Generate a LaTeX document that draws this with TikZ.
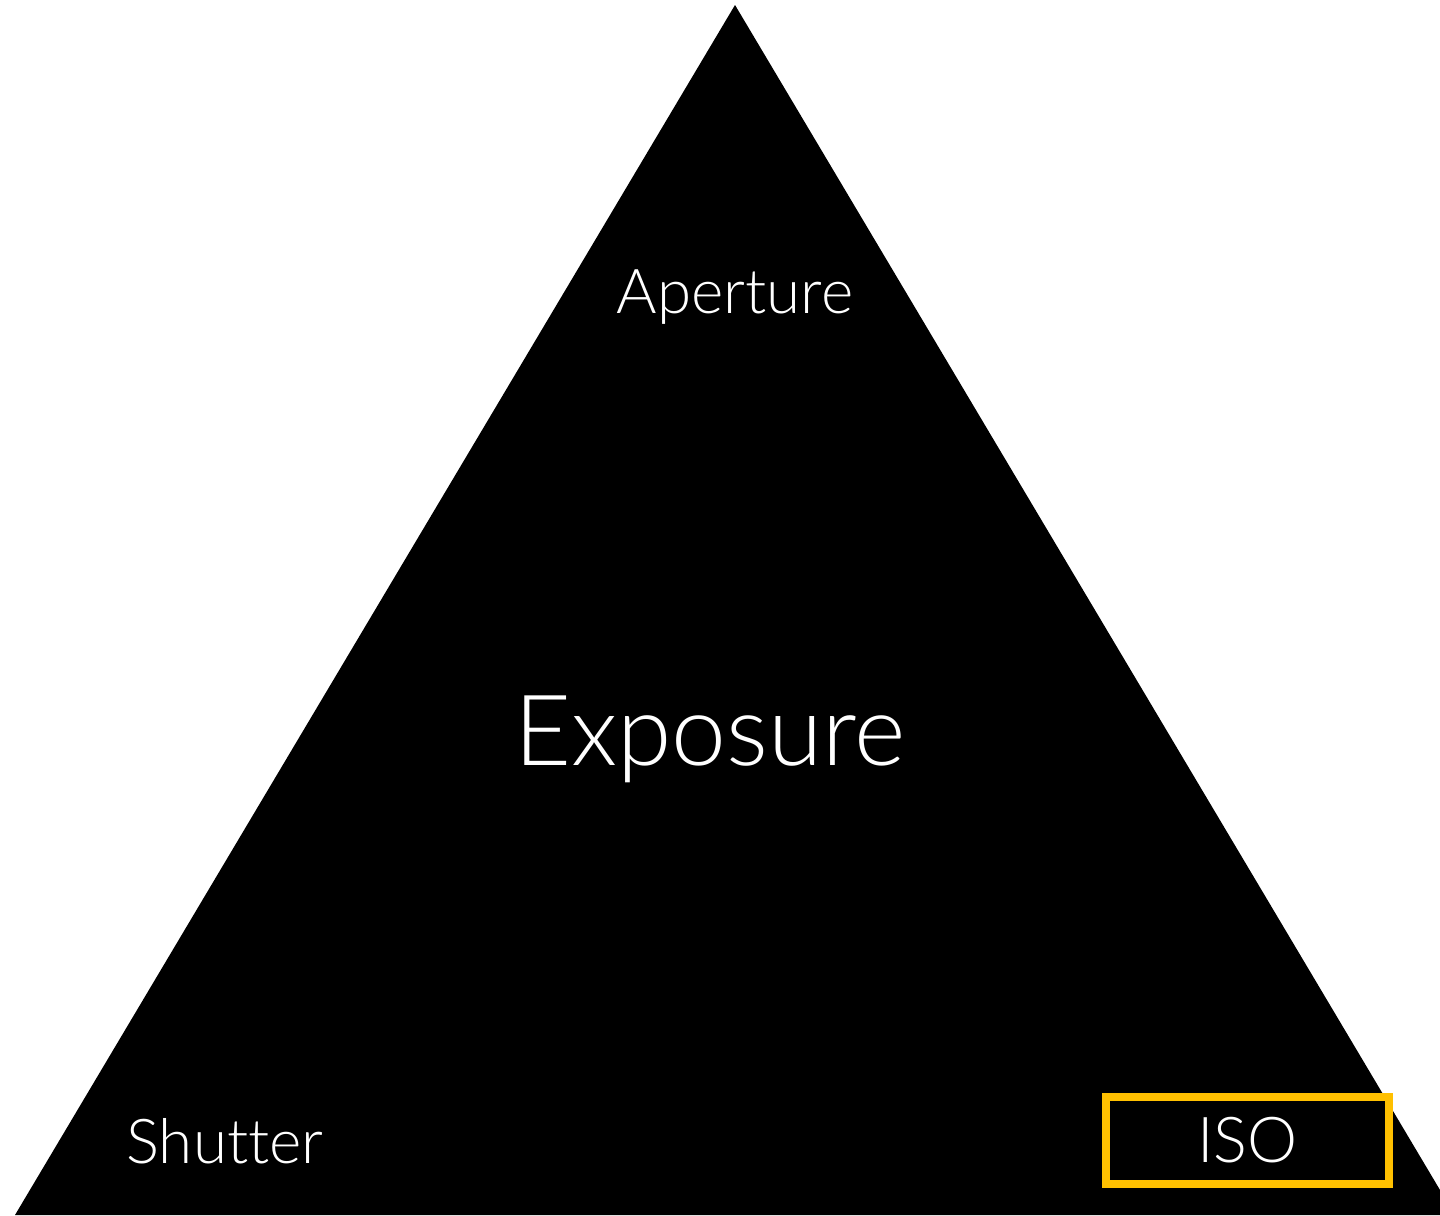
\documentclass[tikz,border=0pt]{standalone}
\usepackage{fontspec}
\setmainfont{Lato Light}[Ligatures={NoCommon}]
\usepackage{tikz}
\usetikzlibrary{positioning}
\definecolor{isoamber}{RGB}{255,192,0}

\begin{document}
\begin{tikzpicture}[
  x=0.01cm,y=-0.01cm,
  lbl/.style={text=white,font=\fontsize{17.6}{20}\selectfont,inner sep=0pt},
  big/.style={text=white,font=\fontsize{28}{32}\selectfont,inner sep=0pt},
  isobox/.style={draw=isoamber,line width=0.08cm,text=white,
    font=\fontsize{18}{20}\selectfont,minimum width=2.83cm,minimum height=0.87cm}]
\useasboundingbox (0,0) rectangle (1440,1215);
% triangle, cut off at the right edge
\coordinate (apex) at (735,5);
\coordinate (bl) at (15,1215);
\coordinate (br) at (1440,1215);
\coordinate (rc) at (1440,1190);
\fill[black] (apex) -- (bl) -- (br) -- (rc) -- cycle;
% corner labels
\node[lbl,anchor=base] (aperture) at (735,313) {Aperture};
\node[big,anchor=base] (exposure) at (710,765) {Exposure};
\node[lbl,anchor=base] (shutter)  at (225,1163) {Shutter};
\node[isobox] (iso) at (1247.5,1140.5) {ISO};
\end{tikzpicture}
\end{document}
